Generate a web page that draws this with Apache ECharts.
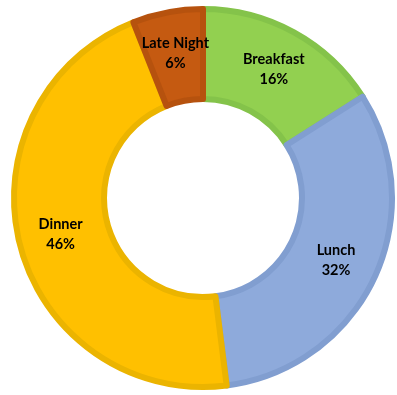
<!DOCTYPE html>
<html><head><meta charset="utf-8">
<script src="https://cdn.jsdelivr.net/npm/echarts@6/dist/echarts.min.js"></script>
<style>html,body{margin:0;padding:0;background:#fff}#c{width:397px;height:395px}</style>
</head><body><div id="c"></div>
<script>
const categories = ['Breakfast', 'Lunch', 'Dinner', 'Late Night'];
const values = [16, 32, 46, 6];
const fillColors = ['#92d050', '#8eaadb', '#ffc000', '#c55a11'];
const borderColors = ['#84c34a', '#819ed0', '#ebb400', '#b6520e'];

const data = categories.map((name, i) => ({
  name, value: values[i],
  itemStyle: { color: fillColors[i], borderColor: borderColors[i] }
}));

const chart = echarts.init(document.getElementById('c'), null, {renderer: 'canvas'});
chart.setOption({
  animation: false,
  series: [{
    type: 'pie',
    center: [203, 198],
    radius: [99, 189],
    startAngle: 90,
    clockwise: true,
    itemStyle: { borderWidth: 6 },
    label: {
      show: true,
      position: 'inside',
      formatter: '{b}\n{d}%',
      fontFamily: 'Lato',
      fontWeight: 'bold',
      fontSize: 14.5,
      lineHeight: 20,
      color: '#000'
    },
    labelLine: { show: false },
    emphasis: { disabled: true },
    data
  }]
});
</script></body></html>
